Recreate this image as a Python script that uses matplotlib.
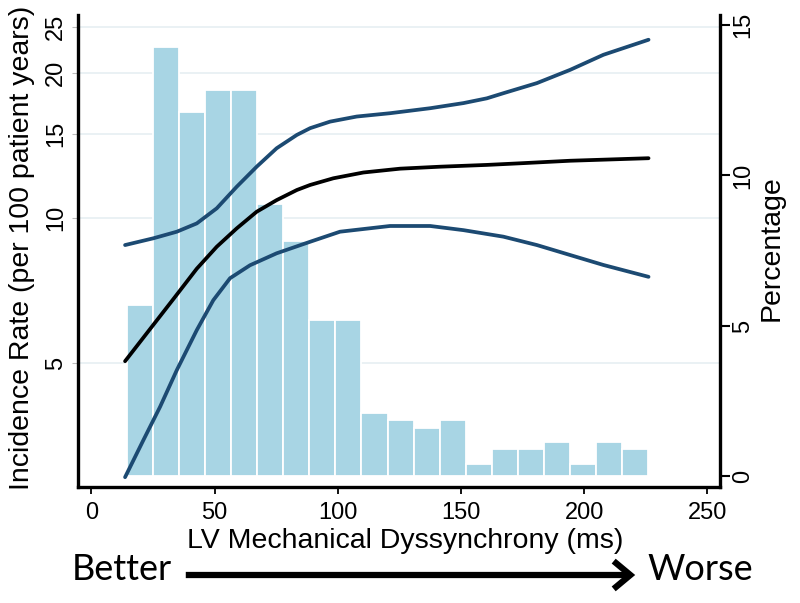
import numpy as np
import matplotlib
matplotlib.use("Agg")
import matplotlib.pyplot as plt
from matplotlib.patches import FancyArrowPatch
from matplotlib.ticker import NullLocator

# ---------------- data ----------------
# histogram (percentage of patients per bin of LV dyssynchrony)
bin_start = 14.5
bin_width = 10.57
pct = [5.68, 14.27, 12.12, 12.83, 12.83, 9.05, 7.83, 5.20, 5.20, 2.10,
       1.88, 1.62, 1.88, 0.42, 0.91, 0.91, 1.13, 0.42, 1.13, 0.91]

# incidence rate curve (per 100 patient years) with confidence bounds
ms_mid = [13.7, 34.0, 42.8, 50.9, 59.0, 67.1, 75.2, 83.4, 88.8, 98.2,
          110.4, 125.3, 141.5, 160.5, 174.0, 194.3, 226.1]
rate_mid = [5.05, 6.87, 7.86, 8.73, 9.53, 10.32, 10.91, 11.45, 11.73,
            12.11, 12.45, 12.68, 12.80, 12.91, 13.01, 13.17, 13.33]

ms_hi = [13.7, 25.2, 34.7, 42.8, 50.9, 59.0, 67.1, 75.2, 83.4, 88.8, 96.9,
         107.7, 121.2, 137.5, 151.0, 160.5, 167.2, 180.8, 194.3, 207.8, 226.1]
rate_hi = [8.80, 9.09, 9.38, 9.76, 10.49, 11.63, 12.80, 13.98, 14.90, 15.39,
           15.88, 16.27, 16.53, 16.93, 17.35, 17.75, 18.19, 19.09, 20.34, 21.86, 23.49]

ms_lo = [13.7, 21.1, 27.9, 34.7, 42.8, 49.5, 56.3, 64.4, 75.2, 88.8, 100.9,
         121.2, 137.5, 151.0, 167.2, 180.8, 194.3, 207.8, 226.1]
rate_lo = [2.90, 3.46, 4.06, 4.84, 5.86, 6.76, 7.51, 7.99, 8.46, 8.94, 9.38,
           9.64, 9.64, 9.45, 9.16, 8.80, 8.39, 8.00, 7.56]

x_ticks = [0, 50, 100, 150, 200, 250]
left_ticks = [5, 10, 15, 20, 25]
right_ticks = [0, 5, 10, 15]

# ---------------- style ----------------
BAR = "#a8d5e4"
NAVY = "#1c4a72"
GRID = "#e6eff2"
FONT = "Liberation Sans"
plt.rcParams["font.family"] = [FONT, "DejaVu Sans"]

W, H = 800, 603
fig = plt.figure(figsize=(8, 6.03), dpi=100)
ax = fig.add_axes([78 / W, 1 - 487 / H, (720 - 78) / W, (487 - 15) / H])
ax2 = ax.twinx()

# limits
xlo, xhi = -5.4, 255.1
ax.set_xlim(xlo, xhi)
plo, phi = -0.35, 15.33
ax.set_ylim(plo, phi)
llo, lhi = 2.767, 26.44
ax2.set_yscale("log")
ax2.set_ylim(llo, lhi)

# gridlines (behind bars) at left-axis log positions
for g in left_ticks:
    f = (np.log(g) - np.log(llo)) / (np.log(lhi) - np.log(llo))
    ax.plot([0, 1], [f, f], transform=ax.transAxes, color=GRID, lw=1.2,
            zorder=0.5, clip_on=False)

# bars
edges = bin_start + bin_width * np.arange(len(pct))
ax.bar(edges, pct, width=bin_width, align="edge", color=BAR,
       edgecolor="white", linewidth=1.3, zorder=1)

# curves
kw = dict(lw=2.7, solid_capstyle="round", solid_joinstyle="round")
ax2.plot(ms_hi, rate_hi, color=NAVY, **kw)
ax2.plot(ms_lo, rate_lo, color=NAVY, **kw)
ax2.plot(ms_mid, rate_mid, color="black", **kw)

# spines
for s in ["top", "left"]:
    ax.spines[s].set_visible(False)
for s in ["top", "right", "bottom"]:
    ax2.spines[s].set_visible(False)
ax.spines["bottom"].set_linewidth(2.4)
ax.spines["right"].set_linewidth(2.4)
ax2.spines["left"].set_linewidth(2.4)
ax.spines["right"].set_bounds(plo, phi)

# x ticks
ax.set_xticks(x_ticks)
ax.set_xticklabels([str(t) for t in x_ticks])
ax.tick_params(axis="x", length=5, width=1.3, pad=6, labelsize=17, direction="out")

# right (percentage) ticks
ax.yaxis.tick_right()
ax.set_yticks(right_ticks)
ax.set_yticklabels([str(t) for t in right_ticks])
ax.tick_params(axis="y", which="both", right=True, left=False, length=7, width=1.5,
               pad=2, labelsize=17, labelrotation=90)
for lab in ax.get_yticklabels():
    lab.set_va("center")

# left (incidence) ticks
ax2.yaxis.tick_left()
ax2.set_yticks(left_ticks)
ax2.set_yticklabels([str(t) for t in left_ticks])
ax2.yaxis.set_minor_locator(NullLocator())
ax2.tick_params(axis="y", which="major", left=True, right=False, length=4, width=0.8,
                color="#bbbbbb", pad=4, labelsize=17, labelrotation=90)
for lab in ax2.get_yticklabels():
    lab.set_va("center")

# axis titles
fig.text(22 / W, 1 - 248 / H, "Incidence Rate (per 100 patient years)", rotation=90,
         ha="center", va="center", fontsize=20.5)
fig.text(772 / W, 1 - 248 / H, "Percentage", rotation=90,
         ha="center", va="center", fontsize=20.5)
fig.text(405 / W, 1 - 541 / H, "LV Mechanical Dyssynchrony (ms)",
         ha="center", va="center", fontsize=20.5)

# Better -> Worse annotation
fig.text(122 / W, 1 - 570 / H, "Better", ha="center", va="center",
         fontsize=26, family=["Lato", "DejaVu Sans"])
fig.text(700 / W, 1 - 570 / H, "Worse", ha="center", va="center",
         fontsize=26, family=["Lato", "DejaVu Sans"])
arr = FancyArrowPatch((183 / W, 1 - 575 / H), (638 / W, 1 - 575 / H),
                      transform=fig.transFigure,
                      arrowstyle="->,head_length=0.6,head_width=0.5",
                      mutation_scale=20, lw=4.5, color="black", joinstyle="miter",
                      capstyle="butt")
fig.add_artist(arr)

fig.savefig("out.png", dpi=100)
